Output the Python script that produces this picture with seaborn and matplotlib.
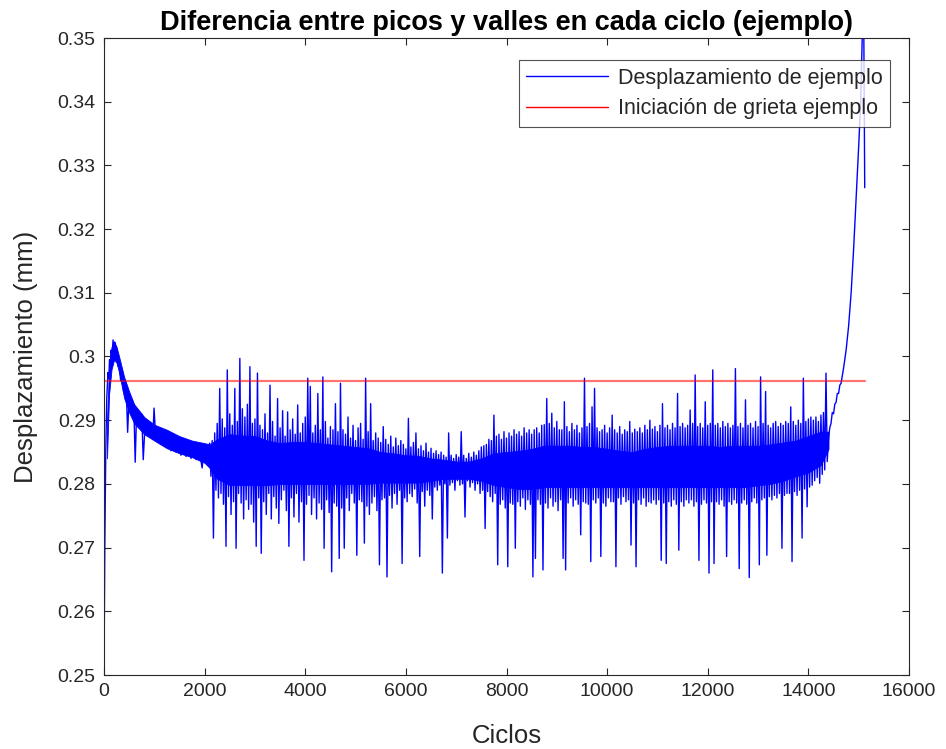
import numpy as np
import pandas as pd
import matplotlib
matplotlib.use("Agg")
import matplotlib.pyplot as plt
import seaborn as sns
from matplotlib.lines import Line2D
from matplotlib.ticker import FuncFormatter

# ---------------- data ----------------
titulo = "Diferencia entre picos y valles en cada ciclo (ejemplo)"
etiqueta_x = "Ciclos"
etiqueta_y = "Desplazamiento (mm)"
serie_desp = "Desplazamiento de ejemplo"
serie_grieta = "Iniciación de grieta ejemplo"

# start-up and decay section
ciclos_inicio = [0, 8, 16, 25, 35, 45, 55, 65, 80, 95, 110, 125, 140, 160, 180, 200,
                 220, 240, 260, 280, 300, 330, 360, 390, 420, 450, 470, 500, 530, 560,
                 600, 620, 650, 700, 750, 780, 820, 870, 920, 970, 995, 1030, 1080,
                 1130, 1180, 1230, 1280, 1330, 1380, 1430, 1480, 1530, 1580, 1630,
                 1680, 1730, 1780, 1830, 1880, 1930, 1950, 1990, 2040]
desp_inicio = [0.2500, 0.2600, 0.2700, 0.2780, 0.2850, 0.2890, 0.2935, 0.2950, 0.2975,
               0.2965, 0.2995, 0.2985, 0.3010, 0.3000, 0.3026, 0.3005, 0.3022, 0.2998,
               0.3010, 0.2985, 0.2995, 0.2962, 0.2978, 0.2945, 0.2962, 0.2930, 0.2881,
               0.2940, 0.2915, 0.2930, 0.2900, 0.2834, 0.2918, 0.2892, 0.2910, 0.2838,
               0.2900, 0.2878, 0.2895, 0.2872, 0.2919, 0.2868, 0.2888, 0.2862, 0.2882,
               0.2858, 0.2878, 0.2852, 0.2874, 0.2850, 0.2870, 0.2845, 0.2868, 0.2843,
               0.2865, 0.2840, 0.2862, 0.2838, 0.2860, 0.2835, 0.2825, 0.2858, 0.2832]

# noisy band: one peak/valley reading every 25 cycles from cycle 2100
ciclo_banda_inicio = 2100
paso_banda = 25
desp_banda = [
    # 2100
    0.2864, 0.2812, 0.2868, 0.2715, 0.2880, 0.2790, 0.2895, 0.2778, 0.2950, 0.2785,
    0.2902, 0.2768, 0.2888, 0.2702, 0.2979, 0.2780, 0.2910, 0.2752, 0.2892, 0.2772,
    # 2600
    0.2950, 0.2699, 0.2898, 0.2785, 0.2997, 0.2770, 0.2918, 0.2745, 0.2905, 0.2775,
    0.2925, 0.2760, 0.2984, 0.2768, 0.2895, 0.2740, 0.2902, 0.2702, 0.2974, 0.2778,
    # 3100
    0.2892, 0.2691, 0.2885, 0.2772, 0.2910, 0.2752, 0.2880, 0.2785, 0.2955, 0.2745,
    0.2898, 0.2780, 0.2875, 0.2762, 0.2934, 0.2738, 0.2888, 0.2775, 0.2915, 0.2790,
    # 3600
    0.2875, 0.2758, 0.2913, 0.2702, 0.2885, 0.2778, 0.2902, 0.2748, 0.2878, 0.2785,
    0.2924, 0.2740, 0.2880, 0.2772, 0.2895, 0.2680, 0.2905, 0.2768, 0.2966, 0.2782,
    # 4100
    0.2953, 0.2752, 0.2880, 0.2778, 0.2892, 0.2745, 0.2942, 0.2770, 0.2885, 0.2760,
    0.2968, 0.2699, 0.2898, 0.2775, 0.2872, 0.2755, 0.2890, 0.2662, 0.2885, 0.2770,
    # 4600
    0.2926, 0.2765, 0.2882, 0.2683, 0.2958, 0.2762, 0.2885, 0.2699, 0.2878, 0.2778,
    0.2905, 0.2758, 0.2872, 0.2785, 0.2892, 0.2770, 0.2868, 0.2688, 0.2888, 0.2775,
    # 5100
    0.2895, 0.2772, 0.2870, 0.2707, 0.2966, 0.2765, 0.2882, 0.2752, 0.2926, 0.2770,
    0.2868, 0.2780, 0.2880, 0.2758, 0.2872, 0.2673, 0.2865, 0.2775, 0.2890, 0.2778,
    # 5600
    0.2870, 0.2654, 0.2862, 0.2782, 0.2875, 0.2762, 0.2858, 0.2785, 0.2872, 0.2768,
    0.2860, 0.2790, 0.2868, 0.2675, 0.2862, 0.2778, 0.2855, 0.2772, 0.2903, 0.2785,
    # 6100
    0.2858, 0.2780, 0.2865, 0.2792, 0.2880, 0.2770, 0.2855, 0.2686, 0.2860, 0.2788,
    0.2852, 0.2765, 0.2864, 0.2790, 0.2850, 0.2782, 0.2856, 0.2745, 0.2848, 0.2795,
    # 6600
    0.2852, 0.2790, 0.2846, 0.2798, 0.2850, 0.2660, 0.2845, 0.2800, 0.2842, 0.2715,
    0.2880, 0.2798, 0.2845, 0.2802, 0.2840, 0.2790, 0.2846, 0.2805, 0.2842, 0.2798,
    # 7100
    0.2882, 0.2800, 0.2845, 0.2748, 0.2840, 0.2805, 0.2848, 0.2795, 0.2842, 0.2802,
    0.2850, 0.2790, 0.2845, 0.2800, 0.2852, 0.2785, 0.2858, 0.2790, 0.2860, 0.2730,
    # 7600
    0.2862, 0.2788, 0.2870, 0.2780, 0.2868, 0.2772, 0.2908, 0.2785, 0.2875, 0.2673,
    0.2878, 0.2768, 0.2870, 0.2775, 0.2882, 0.2762, 0.2872, 0.2670, 0.2880, 0.2770,
    # 8100
    0.2875, 0.2768, 0.2885, 0.2699, 0.2878, 0.2772, 0.2882, 0.2765, 0.2875, 0.2778,
    0.2888, 0.2760, 0.2880, 0.2775, 0.2885, 0.2768, 0.2878, 0.2654, 0.2885, 0.2683,
    # 8600
    0.2888, 0.2775, 0.2880, 0.2768, 0.2892, 0.2665, 0.2893, 0.2770, 0.2934, 0.2762,
    0.2895, 0.2778, 0.2911, 0.2765, 0.2888, 0.2772, 0.2898, 0.2758, 0.2885, 0.2775,
    # 9100
    0.2885, 0.2683, 0.2929, 0.2665, 0.2890, 0.2770, 0.2882, 0.2778, 0.2895, 0.2765,
    0.2885, 0.2775, 0.2892, 0.2768, 0.2880, 0.2720, 0.2888, 0.2772, 0.2966, 0.2770,
    # 9600
    0.2890, 0.2768, 0.2895, 0.2678, 0.2921, 0.2775, 0.2950, 0.2770, 0.2888, 0.2778,
    0.2882, 0.2686, 0.2885, 0.2770, 0.2892, 0.2765, 0.2880, 0.2778, 0.2888, 0.2772,
    # 10100
    0.2908, 0.2772, 0.2885, 0.2670, 0.2880, 0.2778, 0.2890, 0.2768, 0.2878, 0.2780,
    0.2885, 0.2772, 0.2882, 0.2775, 0.2898, 0.2704, 0.2880, 0.2770, 0.2886, 0.2670,
    # 10600
    0.2882, 0.2775, 0.2888, 0.2768, 0.2880, 0.2778, 0.2892, 0.2765, 0.2885, 0.2772,
    0.2900, 0.2770, 0.2886, 0.2775, 0.2890, 0.2768, 0.2882, 0.2775, 0.2892, 0.2680,
    # 11100
    0.2926, 0.2770, 0.2888, 0.2675, 0.2892, 0.2772, 0.2885, 0.2765, 0.2895, 0.2775,
    0.2888, 0.2768, 0.2942, 0.2696, 0.2890, 0.2772, 0.2895, 0.2765, 0.2888, 0.2775,
    # 11600
    0.2892, 0.2770, 0.2916, 0.2775, 0.2895, 0.2765, 0.2971, 0.2772, 0.2890, 0.2680,
    0.2895, 0.2768, 0.2888, 0.2775, 0.2929, 0.2770, 0.2892, 0.2660, 0.2895, 0.2772,
    # 12100
    0.2979, 0.2675, 0.2892, 0.2772, 0.2895, 0.2768, 0.2888, 0.2775, 0.2898, 0.2765,
    0.2890, 0.2686, 0.2895, 0.2772, 0.2888, 0.2768, 0.2892, 0.2775, 0.2981, 0.2770,
    # 12600
    0.2890, 0.2667, 0.2895, 0.2770, 0.2888, 0.2775, 0.2932, 0.2768, 0.2892, 0.2653,
    0.2895, 0.2772, 0.2888, 0.2778, 0.2898, 0.2770, 0.2890, 0.2673, 0.2968, 0.2775,
    # 13100
    0.2895, 0.2778, 0.2945, 0.2688, 0.2892, 0.2780, 0.2888, 0.2775, 0.2895, 0.2782,
    0.2898, 0.2778, 0.2890, 0.2785, 0.2895, 0.2699, 0.2892, 0.2782, 0.2898, 0.2785,
    # 13600
    0.2895, 0.2785, 0.2921, 0.2678, 0.2898, 0.2788, 0.2892, 0.2782, 0.2900, 0.2790,
    0.2895, 0.2715, 0.2966, 0.2792, 0.2898, 0.2764, 0.2902, 0.2795, 0.2905, 0.2798,
    # 14100
    0.2900, 0.2805, 0.2905, 0.2810, 0.2898, 0.2801, 0.2908, 0.2815, 0.2912, 0.2822,
    0.2974, 0.2835,
]

# final crack growth section
ciclos_final = [14400, 14425, 14450, 14475, 14500, 14525, 14550, 14575, 14600, 14625,
                14650, 14700, 14750, 14800, 14850, 14900, 14950, 15000, 15040, 15070,
                15095, 15120]
desp_final = [0.2870, 0.2888, 0.2895, 0.2912, 0.2910, 0.2925, 0.2928, 0.2942, 0.2942,
              0.2955, 0.2958, 0.2982, 0.3010, 0.3048, 0.3100, 0.3170, 0.3250, 0.3330,
              0.3400, 0.3500, 0.3600, 0.3265]

# dense core of the signal (solid blue region): upper / lower edges
ciclos_nucleo = [60, 100, 150, 200, 250, 300, 400, 500, 600, 800, 1000, 1250, 1500,
                 1750, 2000, 2100, 2250, 2500, 2750, 3000, 3250, 3500, 3750, 4000, 4250,
                 4500, 4750, 5000, 5250, 5500, 5750, 6000, 6250, 6500, 6750, 7000,
                 7250, 7500, 7750, 8000, 8250, 8500, 8750, 9000, 9250, 9500, 9750,
                 10000, 10250, 10500, 10750, 11000, 11250, 11500, 11750, 12000, 12250,
                 12500, 12750, 13000, 13250, 13500, 13750, 14000, 14250, 14400]
nucleo_sup = [0.2900, 0.2980, 0.3015, 0.3024, 0.3015, 0.3000, 0.2968, 0.2945, 0.2925,
              0.2905, 0.2893, 0.2885, 0.2875, 0.2868, 0.2864, 0.2862, 0.2870, 0.2878,
              0.2876, 0.2875, 0.2868, 0.2864, 0.2866, 0.2866, 0.2864, 0.2862, 0.2860,
              0.2858, 0.2856, 0.2850, 0.2848, 0.2845, 0.2844, 0.2840, 0.2838, 0.2835,
              0.2835, 0.2840, 0.2848, 0.2850, 0.2852, 0.2855, 0.2860, 0.2860, 0.2860,
              0.2858, 0.2858, 0.2855, 0.2852, 0.2850, 0.2855, 0.2858, 0.2860, 0.2860,
              0.2860, 0.2860, 0.2858, 0.2860, 0.2860, 0.2860, 0.2862, 0.2865, 0.2868,
              0.2875, 0.2882, 0.2882]
nucleo_inf = [0.2840, 0.2940, 0.2980, 0.2995, 0.2990, 0.2975, 0.2935, 0.2912, 0.2895,
              0.2878, 0.2868, 0.2856, 0.2848, 0.2842, 0.2833, 0.2825, 0.2808, 0.2798,
              0.2798, 0.2798, 0.2798, 0.2800, 0.2800, 0.2800, 0.2800, 0.2800, 0.2800,
              0.2800, 0.2800, 0.2802, 0.2802, 0.2802, 0.2802, 0.2805, 0.2808, 0.2808,
              0.2808, 0.2805, 0.2798, 0.2795, 0.2792, 0.2792, 0.2795, 0.2795, 0.2795,
              0.2795, 0.2795, 0.2795, 0.2795, 0.2795, 0.2795, 0.2795, 0.2795, 0.2795,
              0.2795, 0.2795, 0.2795, 0.2795, 0.2795, 0.2798, 0.2800, 0.2805, 0.2812,
              0.2818, 0.2830, 0.2855]

umbral_grieta = 0.2962

x_ticks = [0, 2000, 4000, 6000, 8000, 10000, 12000, 14000, 16000]
y_ticks = [0.25, 0.26, 0.27, 0.28, 0.29, 0.30, 0.31, 0.32, 0.33, 0.34, 0.35]

# ---------------- build tables ----------------
ciclos_banda = list(range(ciclo_banda_inicio,
                          ciclo_banda_inicio + paso_banda * len(desp_banda), paso_banda))
df = pd.DataFrame({
    "ciclo": ciclos_inicio + ciclos_banda + ciclos_final,
    "desp": desp_inicio + desp_banda + desp_final,
})
df_grieta = pd.DataFrame({
    "ciclo": [df["ciclo"].iloc[0], df["ciclo"].iloc[-1]],
    "desp": [umbral_grieta, umbral_grieta],
})

# ---------------- style ----------------
sns.set_theme(style="ticks")
plt.rcParams["font.family"] = ["Liberation Sans", "DejaVu Sans"]
gris = "#262626"
azul = "#0000FF"

fig = plt.figure(figsize=(9.46, 7.49), dpi=100)
ax = fig.add_axes([104 / 946, 1 - 675 / 749, 805 / 946, 637 / 749])

ax.fill_between(ciclos_nucleo, nucleo_inf, nucleo_sup, color=azul, lw=0.6)
sns.lineplot(data=df, x="ciclo", y="desp", ax=ax, color=azul, lw=1.0,
             estimator=None, sort=False)
sns.lineplot(data=df_grieta, x="ciclo", y="desp", ax=ax, color="#FF0000", lw=1.6,
             alpha=0.55, estimator=None, sort=False)

ax.set_xlim(x_ticks[0], x_ticks[-1])
ax.set_ylim(y_ticks[0], y_ticks[-1])
ax.set_xticks(x_ticks)
ax.set_yticks(y_ticks)
ax.yaxis.set_major_formatter(FuncFormatter(lambda v, p: f"{v:g}"))
ax.xaxis.set_major_formatter(FuncFormatter(lambda v, p: f"{v:g}"))

for s in ax.spines.values():
    s.set_visible(True)
    s.set_color(gris)
    s.set_linewidth(0.8)
ax.tick_params(direction="in", top=True, right=True, length=5, width=0.8,
               colors=gris, labelsize=14, pad=6)

ax.set_xlabel(etiqueta_x, fontsize=18.5, color=gris, labelpad=17)
ax.set_ylabel(etiqueta_y, fontsize=18.5, color=gris, labelpad=14)
ax.set_title(titulo, fontsize=19.5, fontweight="bold", color="black", pad=6)

handles = [Line2D([], [], color=azul, lw=1.0),
           Line2D([], [], color="#FF0000", lw=1.0)]
leg = ax.legend(handles, [serie_desp, serie_grieta], loc="upper right",
                bbox_to_anchor=(1 - 19 / 805, 1 - 22 / 637), borderaxespad=0,
                fontsize=15.5, handlelength=3.8, frameon=True, fancybox=False,
                borderpad=0.35, labelspacing=0.45, handletextpad=0.45)
leg.get_frame().set_edgecolor(gris)
leg.get_frame().set_linewidth(0.8)
for t in leg.get_texts():
    t.set_color(gris)

fig.savefig("out.png", dpi=100)
